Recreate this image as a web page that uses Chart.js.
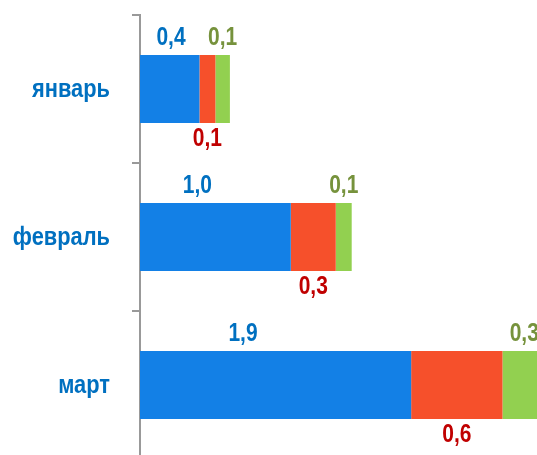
<!DOCTYPE html>
<html>
<head>
<meta charset="utf-8">
<script src="https://cdn.jsdelivr.net/npm/chart.js@4.4.0/dist/chart.umd.min.js"></script>
<style>
  html, body { margin: 0; padding: 0; background: #fff; overflow: hidden; }
  #chart { position: absolute; left: 0; top: 0; }
</style>
</head>
<body>
<canvas id="chart" width="604" height="470"></canvas>
<script>
const months = ['январь', 'февраль', 'март'];
const blueValues = [0.41, 1.04, 1.87];
const redValues = [0.11, 0.31, 0.63];
const greenValues = [0.10, 0.11, 0.30];

const fontFamily = '"Liberation Sans", Arial, sans-serif';
const squeeze = 0.84; // narrow look of the original font

function fmt(v) {
    return v.toFixed(1).replace('.', ',');
}

function narrowText(ctx, text, x, y) {
    ctx.save();
    ctx.translate(x, y);
    ctx.scale(squeeze, 1);
    ctx.fillText(text, 0, 0);
    ctx.restore();
}

// value labels next to each segment + category names
const chartLabels = {
    id: 'chartLabels',
    afterDatasetsDraw(chart) {
        const ctx = chart.ctx;
        ctx.save();
        ctx.font = 'bold 25px ' + fontFamily;
        ctx.textAlign = 'center';
        ctx.textBaseline = 'alphabetic';
        chart.data.datasets.forEach((ds, i) => {
            const meta = chart.getDatasetMeta(i);
            meta.data.forEach((bar, j) => {
                const p = bar.getProps(['x', 'y', 'base', 'height'], true);
                const left = p.base, right = p.x;
                const top = p.y - p.height / 2, bottom = p.y + p.height / 2;
                let x;
                if (i === 0) {
                    x = left + Math.max((right - left) * 0.38, 31);
                } else {
                    x = (left + right) / 2;
                }
                ctx.fillStyle = ds.labelColor;
                if (i === 1) {
                    narrowText(ctx, fmt(ds.data[j]), x, bottom + 23);
                } else {
                    narrowText(ctx, fmt(ds.data[j]), x, top - 10);
                }
            });
        });

        const yScale = chart.scales.y;
        ctx.font = 'bold 26px ' + fontFamily;
        ctx.fillStyle = '#0070C0';
        ctx.textAlign = 'right';
        ctx.textBaseline = 'middle';
        months.forEach((m, i) => {
            narrowText(ctx, m, 110, yScale.getPixelForValue(i) + 1);
        });
        ctx.restore();
    }
};

const ctx = document.getElementById('chart').getContext('2d');
const chart = new Chart(ctx, {
    type: 'bar',
    data: {
        labels: months,
        datasets: [
            { data: blueValues, backgroundColor: '#1380E6', labelColor: '#0070C0' },
            { data: redValues, backgroundColor: '#F6502B', labelColor: '#C00000' },
            { data: greenValues, backgroundColor: '#92D050', labelColor: '#76923C' }
        ]
    },
    options: {
        indexAxis: 'y',
        responsive: false,
        animation: false,
        layout: { padding: { top: 15, bottom: 11, left: 0, right: 0 } },
        datasets: {
            bar: { categoryPercentage: 1, barPercentage: 0.46, borderWidth: 0 }
        },
        plugins: {
            legend: { display: false },
            tooltip: { enabled: false }
        },
        scales: {
            x: {
                stacked: true,
                display: false,
                min: 0,
                max: 3.2
            },
            y: {
                stacked: true,
                afterFit(scale) { scale.width = 140; },
                border: { display: true, color: '#999999', width: 2 },
                grid: {
                    offset: true,
                    drawOnChartArea: false,
                    drawTicks: true,
                    tickLength: 8,
                    color: '#999999',
                    lineWidth: 2
                },
                ticks: { display: false }
            }
        }
    },
    plugins: [chartLabels]
});
</script>
</body>
</html>
